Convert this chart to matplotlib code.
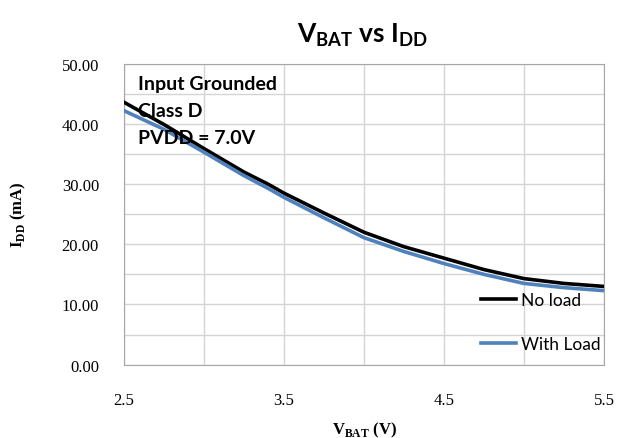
import matplotlib.pyplot as plt
import numpy as np

# data
vbat = [2.5, 2.75, 3.0, 3.25, 3.4, 3.5, 3.75, 4.0, 4.25, 4.5, 4.75, 5.0, 5.25, 5.5]
idd_no_load = [43.6, 39.9, 35.9, 32.0, 30.0, 28.5, 25.2, 22.0, 19.6, 17.7, 15.8, 14.3, 13.5, 13.0]
idd_with_load = [42.2, 39.1, 35.3, 31.4, 29.3, 27.8, 24.4, 21.1, 18.8, 16.8, 15.0, 13.5, 12.8, 12.3]

x_ticks = [2.5, 3.5, 4.5, 5.5]
y_ticks = [0, 10, 20, 30, 40, 50]
notes = ["Input Grounded", "Class D", "PVDD = 7.0V"]

sans = ["Lato", "DejaVu Sans"]
serif = ["Liberation Serif", "DejaVu Serif"]

fig = plt.figure(figsize=(6.18, 4.39), dpi=100)
ax = fig.add_axes([0.2006, 0.167, 0.7767, 0.6856])

ax.plot(vbat, idd_no_load, color="black", lw=2.6, label="No load", zorder=3,
        solid_joinstyle="round")
ax.plot(vbat, idd_with_load, color="#4f81bd", lw=2.6, label="With Load", zorder=3,
        solid_joinstyle="round")

ax.set_xlim(2.5, 5.5)
ax.set_ylim(0, 50)
ax.set_xticks(x_ticks)
ax.set_xticks(np.arange(2.5, 5.51, 0.5), minor=True)
ax.set_yticks(y_ticks)
ax.set_yticks(np.arange(0, 50.1, 5), minor=True)
ax.set_xticklabels([f"{v:.1f}" for v in x_ticks], family=serif, fontsize=12)
ax.set_yticklabels([f"{v:.2f}" for v in y_ticks], family=serif, fontsize=12)
ax.tick_params(which="both", length=0)
ax.tick_params(axis="x", pad=20)
ax.tick_params(axis="y", pad=18)
ax.grid(which="both", color="#d4d4d4", lw=1.0)
ax.set_axisbelow(True)
for s in ax.spines.values():
    s.set_color("#a6a6a6")

fig.text(0.587, 0.92, r"V$_{\mathregular{BAT}}$ vs I$_{\mathregular{DD}}$",
         ha="center", va="center", fontsize=19, family=sans, fontweight="bold")
fig.text(0.59, 0.02, r"V$_{\mathregular{BAT}}$ (V)", ha="center", va="center",
         fontsize=12, family=serif, fontweight="bold")
fig.text(0.03, 0.51, r"I$_{\mathregular{DD}}$ (mA)", ha="center", va="center",
         rotation=90, fontsize=12, family=serif, fontweight="bold")

for i, t in enumerate(notes):
    ax.text(0.03, 0.935 - i * 0.09, t, transform=ax.transAxes, ha="left", va="center",
            fontsize=14, fontweight="bold", family=sans)

leg = ax.legend(loc="lower right", bbox_to_anchor=(1.025, -0.01), frameon=False,
                handlelength=2.0, handletextpad=0.3, labelspacing=1.6,
                prop={"family": sans, "size": 12.5})

fig.savefig("out.png", dpi=100)
